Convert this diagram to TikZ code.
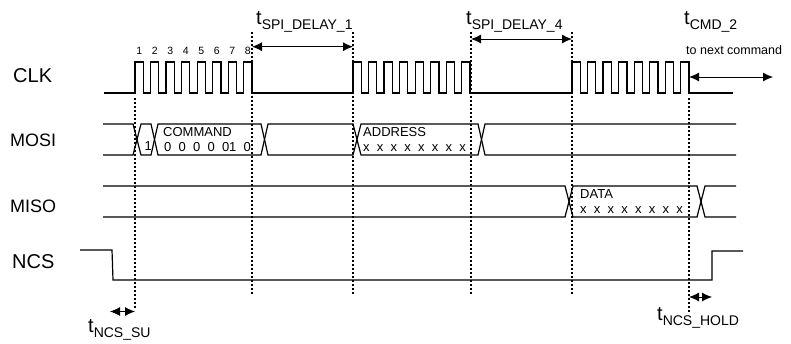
\documentclass[tikz,border=0pt]{standalone}
\usepackage{fontspec}
\setmainfont{Liberation Sans}
\usetikzlibrary{arrows.meta}

\newcommand{\tdelay}[1]{{\fontsize{20}{20}\selectfont t}\raisebox{-5pt}{\fontsize{14}{14}\selectfont #1}}

\begin{document}
\begin{tikzpicture}[
  x=1pt, y=-1pt,
  sig/.style={line width=1.2pt},
  guide/.style={line width=1.6pt, dash pattern=on 1.6pt off 2.4pt},
  span/.style={{Latex[length=10pt,width=9pt]}-{Latex[length=10pt,width=9pt]}, line width=0.9pt},
  signame/.style={anchor=base west, inner sep=0pt, font=\fontsize{20}{20}\selectfont},
  busname/.style={anchor=base west, inner sep=0pt, font=\fontsize{18}{18}\selectfont},
  field/.style={anchor=base west, inner sep=0pt, font=\fontsize{13}{13}\selectfont},
  timing/.style={anchor=base west, inner sep=0pt},
  num/.style={anchor=base, inner sep=0pt, font=\fontsize{10.5}{10.5}\selectfont}
]
  \useasboundingbox (0,0) rectangle (791,343);

  % signal names
  \node[signame] (clk) at (13,82) {CLK};
  \node[busname] (mosi) at (10,146) {MOSI};
  \node[busname] (miso) at (10,212) {MISO};
  \node[signame] (ncs) at (12,268) {NCS};

  % clock, three bursts of 8 pulses
  \draw[sig] (104,93) foreach \s in {135,353,572}{
      foreach \k in {0,...,7}{
        -- ({\s+\k*15.53},93) |- ({\s+\k*15.53+8.3},62) |- ({\s+\k*15.53+15.53},93)
      }
    } -- (733,93);
  \foreach \k in {1,...,8}
    \node[num] (n\k) at ({135+(\k-1)*15.53+4.2},54) {\k};

  % MOSI
  \draw[sig] (103,124) -- (133,124) -- (141,155) -- (151,155) -- (158,124) -- (261,124) -- (268,155)
    -- (353,155) -- (361,124) -- (478,124) -- (485,155) -- (736,155);
  \draw[sig] (103,155) -- (133,155) -- (141,124) -- (151,124) -- (158,155) -- (261,155) -- (268,124)
    -- (353,124) -- (361,155) -- (478,155) -- (485,124) -- (736,124);
  \node[field] (bit1) at (144.5,150) {1};
  \node[field] (cmd) at (163,136.8) {COMMAND};
  \node[field] (cmdbits) at (164,151.4) {0~~0~~0~~0~~01~~0};
  \node[field] (addr) at (363,136.8) {ADDRESS};
  \node[field] (addrbits) at (363,151.4) {x~~x~~x~~x~~x~~x~~x~~x};

  % MISO
  \draw[sig] (103,186) -- (565,186) -- (573,217) -- (697,217) -- (705,186) -- (736,186);
  \draw[sig] (103,217) -- (565,217) -- (573,186) -- (697,186) -- (705,217) -- (736,217);
  \node[field] (data) at (580,198.8) {DATA};
  \node[field] (databits) at (580,213.4) {x~~x~~x~~x~~x~~x~~x~~x};

  % NCS
  \draw[sig] (80,250) -- (112,250) -- (113,280) -- (712,280) -- (712,251) -- (743,251);

  % guide lines
  \coordinate (g1t) at (135,98);  \coordinate (g1b) at (135,308);
  \coordinate (g2t) at (252,32);  \coordinate (g2b) at (252,295);
  \coordinate (g3t) at (353,32);  \coordinate (g3b) at (353,295);
  \coordinate (g4t) at (471,32);  \coordinate (g4b) at (471,295);
  \coordinate (g5t) at (572,32);  \coordinate (g5b) at (572,295);
  \coordinate (g6t) at (689,98);  \coordinate (g6b) at (689,312);
  \foreach \g in {1,...,6}
    \draw[guide] (g\g t) -- (g\g b);

  % timing spans
  \coordinate (d1l) at (252,46.7); \coordinate (d1r) at (353,46.7);
  \coordinate (d4l) at (471,39);   \coordinate (d4r) at (572,39);
  \coordinate (c2l) at (689,77);   \coordinate (c2r) at (773,77);
  \coordinate (sul) at (110,311.5); \coordinate (sur) at (135,311.5);
  \coordinate (hol) at (689,297);  \coordinate (hor) at (712,297);
  \draw[span] (d1l) -- (d1r);
  \draw[span] (d4l) -- (d4r);
  \draw[span] (c2l) -- (c2r);
  \draw[span] (sul) -- (sur);
  \draw[span] (hol) -- (hor);

  \node[timing] (tdly1) at (256,24) {\tdelay{SPI\_DELAY\_1}};
  \node[timing] (tdly4) at (466,24) {\tdelay{SPI\_DELAY\_4}};
  \node[timing] (tcmd) at (684,24) {\tdelay{CMD\_2}};
  \node[timing, font=\fontsize{12.5}{12.5}\selectfont] (nextcmd) at (686,54) {to next command};
  \node[timing] (tsu) at (88,332) {\tdelay{NCS\_SU}};
  \node[timing] (thold) at (657,320) {\tdelay{NCS\_HOLD}};
\end{tikzpicture}
\end{document}
